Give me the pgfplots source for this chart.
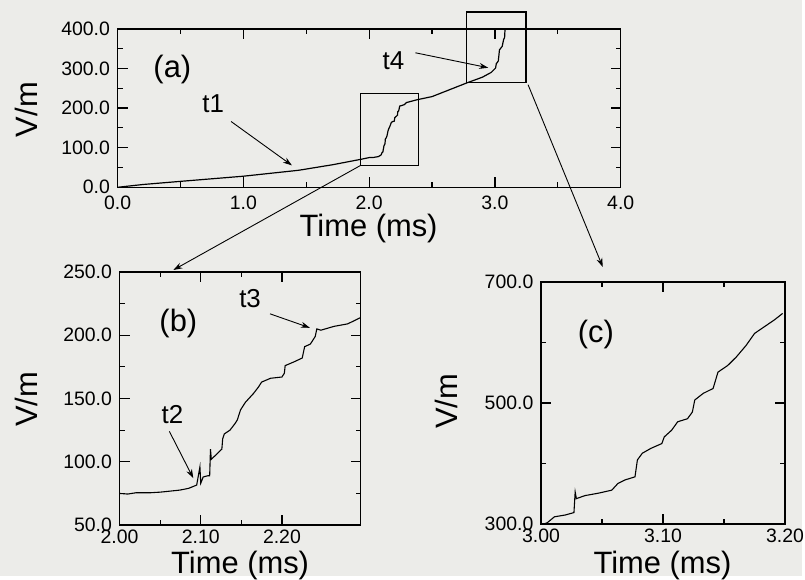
\documentclass[border=0pt]{standalone}
\usepackage{fontspec}
\setmainfont{Liberation Sans}
\usepackage{pgfplots}
\pgfplotsset{compat=1.18}
\usetikzlibrary{arrows.meta}
\definecolor{bg}{RGB}{236,236,233}

\pgfplotstableread{
t V
0.000 0
0.200 7
0.500 15
1.000 28
1.440 43
1.710 57
1.940 71
2.000 75
2.037 75.5
2.074 77.6
2.095 81.6
2.103 88
2.109 89
2.118 105
2.126 110
2.129 122
2.136 125
2.142 130
2.149 141
2.155 147
2.165 154
2.171 159
2.175 163
2.186 166
2.200 167
2.204 176
2.215 179
2.225 182
2.228 191
2.235 193
2.243 205
2.264 207
2.281 209
2.297 214
2.380 221
2.500 229
2.780 264
2.900 278
2.970 290
3.005 301
3.011 312
3.027 319
3.036 347
3.058 356
3.069 373
3.077 378
3.083 417
3.099 433
3.112 469
3.126 505
3.141 524
3.160 576
3.183 626
3.196 648
}\dataA

\pgfplotstableread{
t V
2.000 75
2.010 74.5
2.020 75.5
2.037 75.5
2.050 76
2.074 77.6
2.085 79
2.095 81.6
2.099 96
2.100 83
2.103 88
2.109 89
2.111 89
2.112 110
2.113 102
2.118 105
2.126 110
2.127 118
2.129 122
2.136 125
2.142 130
2.145 133
2.149 141
2.155 147
2.165 154
2.171 159
2.175 163
2.186 166
2.200 167
2.203 170
2.204 176
2.215 179
2.225 182
2.228 191
2.235 193
2.241 199
2.243 205
2.248 204
2.264 207
2.281 209
2.297 214
}\dataB

\pgfplotstableread{
t V
3.002 300
3.005 302
3.011 312
3.020 315
3.027 319
3.028 353
3.029 342
3.036 347
3.047 351
3.058 356
3.063 367
3.069 373
3.077 378
3.079 406
3.083 417
3.090 425
3.099 433
3.101 444
3.107 455
3.112 469
3.120 474
3.124 485
3.126 505
3.133 516
3.141 524
3.145 551
3.153 562
3.160 576
3.168 595
3.175 615
3.183 626
3.191 637
3.198 648
}\dataC

\pgfplotsset{panel/.style={
  scale only axis,
  axis line style={line width=1.4pt},
  tick align=inside,
  major tick length=10pt,
  minor tick length=5pt,
  every tick/.style={line width=1.2pt, black},
  tick label style={font=\fontsize{19.5}{19.5}\selectfont, inner sep=1pt},
  yticklabel style={xshift=-6.5pt},
  /pgf/number format/assume math mode=true,
  minor tick num=1,
}}

\begin{document}
\begin{tikzpicture}[x=1pt,y=1pt]
\fill[bg] (0,0) rectangle (805,578);

% panel (a)
\begin{axis}[panel, at={(118pt,390pt)}, anchor=south west,
  width=505pt, height=159pt,
  xmin=0, xmax=4, ymin=0, ymax=400,
  xtick={0,1,2,3,4}, ytick={0,100,200,300,400},
  xticklabel style={yshift=-7pt, /pgf/number format/.cd, fixed, fixed zerofill, precision=1},
  yticklabel style={/pgf/number format/.cd, fixed, fixed zerofill, precision=1}]
\addplot[black, line width=1.2pt] table[x=t, y=V] {\dataA};
\end{axis}

% panel (b)
\begin{axis}[panel, at={(120pt,51pt)}, anchor=south west,
  width=242pt, height=254pt,
  xmin=2.0, xmax=2.297, ymin=50, ymax=250,
  xtick={2.0,2.1,2.2}, ytick={50,100,150,200,250},
  xticklabel style={yshift=-3.5pt, /pgf/number format/.cd, fixed, fixed zerofill, precision=2},
  yticklabel style={/pgf/number format/.cd, fixed, fixed zerofill, precision=1}]
\addplot[black, line width=1.1pt] table[x=t, y=V] {\dataB};
\end{axis}

% panel (c)
\begin{axis}[panel, at={(543pt,52pt)}, anchor=south west,
  width=245pt, height=243pt,
  xmin=3.0, xmax=3.2, ymin=300, ymax=700,
  xtick={3.0,3.1,3.2}, ytick={300,500,700},
  xticklabel style={yshift=-3.5pt, /pgf/number format/.cd, fixed, fixed zerofill, precision=2},
  yticklabel style={/pgf/number format/.cd, fixed, fixed zerofill, precision=1}]
\addplot[black, line width=1.1pt] table[x=t, y=V] {\dataC};
\end{axis}

% axis labels
\tikzset{lab/.style={font=\fontsize{31}{31}\selectfont, inner sep=0pt}}
\node[lab, anchor=base] at (370,341) {Time (ms)};
\node[lab, anchor=base] at (241,2.5) {Time (ms)};
\node[lab, anchor=base] at (665,2.5) {Time (ms)};
\node[lab, rotate=90] at (27,468) {V/m};
\node[lab, rotate=90] at (27,177) {V/m};
\node[lab, rotate=90] at (448,175) {V/m};

% panel letters and annotations
\tikzset{ann/.style={font=\fontsize{26}{26}\selectfont, inner sep=0pt},
         pl/.style={font=\fontsize{31}{31}\selectfont, inner sep=0pt}}
\node[pl] at (173,508) {(a)};
\node[pl] at (179,253) {(b)};
\node[pl] at (598,242) {(c)};
\node[ann] at (214,474) {t1};
\node[ann] at (395,517) {t4};
\node[ann] at (173,162) {t2};
\node[ann] at (251,278) {t3};

\tikzset{arr/.style={line width=0.9pt, -{Stealth[length=9pt, width=6pt]}}}
\draw[arr] (232,456) -- (293,412);
\draw[arr] (417,525) -- (490,510);
\draw[arr] (170,145) -- (194,98);
\draw[arr] (271,263) -- (311,249);

% zoom boxes
\draw[line width=1.3pt] (362,484) rectangle (420,412);
\draw[line width=1.3pt] (468,566) rectangle (528,495);
\draw[arr] (362,412) -- (174,307);
\draw[arr] (530,493) -- (605,310);
\end{tikzpicture}
\end{document}
